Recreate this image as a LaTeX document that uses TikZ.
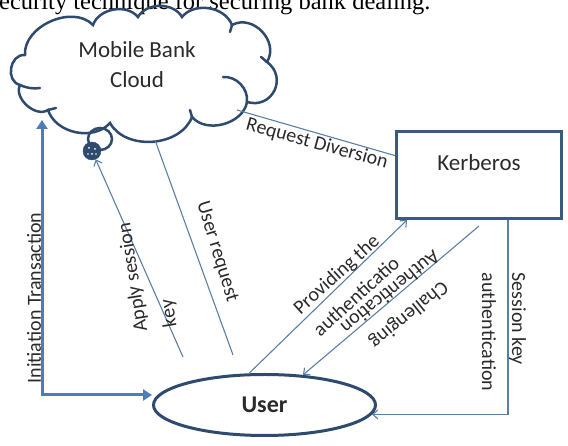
\documentclass[tikz,border=0pt]{standalone}
\usepackage{fontspec}
\setmainfont{Carlito}
\newfontfamily\capfont{Liberation Serif}
\usetikzlibrary{arrows.meta,shapes.geometric}
\definecolor{navy}{HTML}{2E4A6E}
\definecolor{boxc}{HTML}{3A5A7E}
\definecolor{thinc}{HTML}{5C7FA8}
\definecolor{initc}{HTML}{4D7CB8}
\definecolor{txt}{HTML}{2A2A2A}
\begin{document}
\begin{tikzpicture}[x=1pt,y=1pt,
  lbl/.style={font=\fontsize{20}{30}\selectfont, text=txt, inner sep=0pt},
  nodetext/.style={font=\fontsize{23}{30}\selectfont, text=txt},
  cloudline/.style={draw=navy, line width=2.5pt, line cap=round},
  thinline/.style={draw=thinc, line width=1.1pt},
  thinarrow/.style={thinline, -{Straight Barb[length=5pt,width=9pt]}},
  initline/.style={draw=initc, line width=3pt},
  kbox/.style={draw=boxc, line width=3pt, minimum width=165pt, minimum height=87pt, text depth=24pt, nodetext},
  userbox/.style={ellipse, draw=navy, line width=3pt, minimum width=222pt, minimum height=61pt, inner sep=0pt, nodetext, font=\bfseries\fontsize{24}{30}\selectfont}
]
\useasboundingbox (0,0) rectangle (568,446);
\clip (0,0) rectangle (568,446);

% caption (cut at the top of the picture)
\node[anchor=base west, inner sep=0pt, font=\capfont\fontsize{24.5}{29}\selectfont] (caption) at (-10.5,436.5) {security technique for securing bank dealing.};

% cloud
\coordinate (c1) at (25,391);
\coordinate (c2) at (93,421);
\coordinate (c3) at (138,429);
\coordinate (c4) at (182,429);
\coordinate (c5) at (232,421);
\coordinate (c6) at (267,384);
\coordinate (c7) at (247,344);
\coordinate (c8) at (192,329);
\coordinate (c9) at (110,323);
\coordinate (c10) at (48,336);
\coordinate (c11) at (20,361);
\draw[cloudline] (c1) to[bend left=70] (c2) to[bend left=60] (c3) to[bend left=60] (c4)
  to[bend left=60] (c5) to[bend left=75,looseness=1.2] (c6) to[bend left=80,looseness=1.5] (c7)
  to[bend left=65] (c8) to[bend left=65] (c9) to[bend left=60] (c10)
  to[bend left=75] (c11) to[bend left=85,looseness=1.3] (c1) -- cycle;
\draw[cloudline] (c11) to[bend right=15] (40,358);
\draw[cloudline] (223,369) to[bend left=50] (c7);
\draw[cloudline] (c6) -- (261,389);
\draw[cloudline] (c8) -- (190,336);
\draw[cloudline] (c10) -- (56,338);
\draw[cloudline] (c5) -- (230,414);
\node[nodetext, align=center] (cloudtxt) at (137,381) {Mobile Bank\\Cloud};

% thought bubble
\draw[cloudline] (100,307) ellipse [x radius=12, y radius=11];
\node[circle, fill=navy, draw=navy, minimum size=18pt, inner sep=0pt] (bubble) at (92,295) {};
\fill[white] (89,298) circle (1pt) (95,297) circle (1pt) (92,292) circle (1pt) (88,292) circle (0.8pt) (96,292) circle (0.8pt);

% Kerberos and User
\node[kbox] (kerb) at (479,271) {Kerberos};
\node[userbox] (user) at (264.5,41) {User};

% coordinates for free ends
\coordinate (cloudInit) at (42,326);
\coordinate (initCorner) at (42,51);
\coordinate (cloudDiv) at (237,336);
\coordinate (cloudReq) at (155,306);
\coordinate (userReqEnd) at (233,91);
\coordinate (applyStart) at (183,89);

% connectors
\draw[initline, {Triangle[length=9pt,width=11pt]}-{Triangle[length=9pt,width=11pt]}] (cloudInit) -- (initCorner) -- (user.west |- initCorner);
\draw[thinline] (cloudDiv) -- (kerb.167);
\draw[thinline] (cloudReq) -- (userReqEnd);
\draw[thinarrow] (applyStart) -- (bubble);
\draw[thinarrow] (user.116) -- ([xshift=12pt]kerb.south west);
\draw[thinarrow] ([yshift=-6pt]kerb.south) -- (user.38);
\draw[thinarrow] ([xshift=29pt]kerb.south) |- (user.-5.4);

% labels
\node[lbl, rotate=-15.5] (lblDiv) at (317,302) {Request Diversion};
\node[lbl, rotate=90] (lblInit) at (34,148) {Initiation Transaction};
\node[lbl, rotate=99, align=left] (lblApply) at (148,171) {Apply session\\key};
\node[lbl, rotate=-73] (lblUser) at (217,194) {User request};
\node[lbl, rotate=42, align=center] (lblProv) at (346,161) {Providing the\\authenticatio};
\node[lbl, rotate=219, align=center] (lblChal) at (400,142) {Challenging\\Authentication};
\node[lbl, rotate=-90, align=left] (lblSess) at (504,114) {Session key\\authentication};
\end{tikzpicture}
\end{document}
